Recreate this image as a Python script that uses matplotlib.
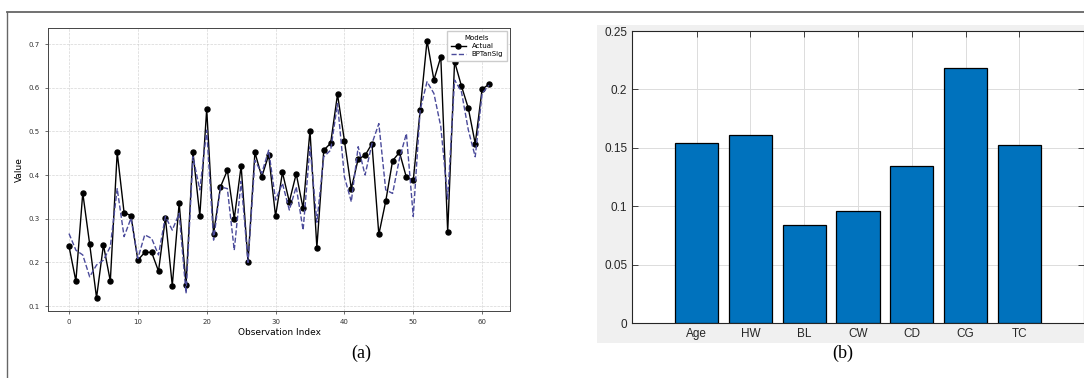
import numpy as np
import matplotlib
matplotlib.use("Agg")
import matplotlib.pyplot as plt
from matplotlib.lines import Line2D
from matplotlib.patches import Rectangle

# (a) observed vs predicted series
actual = [0.237, 0.157, 0.359, 0.242, 0.119, 0.240, 0.157, 0.452, 0.314, 0.307,
          0.205, 0.223, 0.223, 0.180, 0.302, 0.147, 0.336, 0.149, 0.453, 0.307,
          0.551, 0.266, 0.373, 0.411, 0.300, 0.421, 0.201, 0.452, 0.396, 0.446,
          0.306, 0.406, 0.339, 0.403, 0.324, 0.502, 0.234, 0.457, 0.473, 0.585,
          0.479, 0.369, 0.437, 0.445, 0.472, 0.264, 0.340, 0.433, 0.452, 0.395,
          0.388, 0.548, 0.708, 0.618, 0.671, 0.270, 0.660, 0.604, 0.553, 0.472,
          0.597, 0.608]
bptansig = [0.266, 0.228, 0.217, 0.167, 0.194, 0.205, 0.236, 0.369, 0.259, 0.301,
            0.209, 0.263, 0.255, 0.217, 0.305, 0.274, 0.312, 0.129, 0.442, 0.366,
            0.503, 0.251, 0.373, 0.369, 0.228, 0.386, 0.200, 0.434, 0.404, 0.457,
            0.343, 0.381, 0.320, 0.373, 0.274, 0.465, 0.292, 0.442, 0.457, 0.564,
            0.396, 0.339, 0.465, 0.400, 0.472, 0.518, 0.366, 0.358, 0.438, 0.495,
            0.305, 0.549, 0.614, 0.587, 0.511, 0.345, 0.618, 0.591, 0.503, 0.442,
            0.587, 0.606]
obs_idx = np.arange(len(actual))

# (b) feature weights
features = ["Age", "HW", "BL", "CW", "CD", "CG", "TC"]
weights = [0.1544, 0.161, 0.0842, 0.0959, 0.1347, 0.218, 0.1527]

W, H = 1084, 378
fig = plt.figure(figsize=(W / 100, H / 100), dpi=100)
fig.patch.set_facecolor("white")

# ---- left panel ----
ax1 = fig.add_axes([48 / W, 1 - 311 / H, (510 - 48) / W, (311 - 28) / H])
ax1.plot(obs_idx, actual, color="black", marker="o", markersize=3.6,
         linewidth=1.0, label="Actual")
ax1.plot(obs_idx, bptansig, color="#4b4b9b", linestyle="--", linewidth=1.0,
         label="BPTanSig")
ax1.set_xlim(-3.05, 64.05)
ax1.set_ylim(0.0886, 0.737)
ax1.set_xticks(range(0, 61, 10))
ax1.set_yticks([0.1, 0.2, 0.3, 0.4, 0.5, 0.6, 0.7])
ax1.grid(True, linestyle="--", linewidth=0.5, color="#cccccc", alpha=0.8)
ax1.tick_params(labelsize=5, length=2.5, width=0.5, colors="#333333")
ax1.set_xlabel("Observation Index", fontsize=6.5, labelpad=2)
ax1.set_ylabel("Value", fontsize=6.5, labelpad=3)
for s in ax1.spines.values():
    s.set_color("#444444")
    s.set_linewidth(0.7)
leg = ax1.legend(title="Models", fontsize=5, title_fontsize=5, loc="upper right",
                 handlelength=2.2, borderpad=0.5, labelspacing=0.3, framealpha=1,
                 edgecolor="#cccccc", fancybox=False)

# ---- right panel ----
bg = Rectangle((597 / W, 1 - 343 / H), 1 - 597 / W, (343 - 25) / H,
               transform=fig.transFigure, facecolor="#f0f0f0", edgecolor="none",
               zorder=0)
fig.add_artist(bg)

ax2 = fig.add_axes([632 / W, 1 - 323 / H, (1084 - 632) / W, (323 - 31) / H])
ax2.set_facecolor("white")
pos = np.arange(1, len(features) + 1)
ax2.bar(pos, weights, width=0.8, color="#0072BD", edgecolor="black",
        linewidth=0.9, zorder=3)
ax2.set_xlim(-0.2, 8.2)
ax2.set_ylim(0, 0.25)
ax2.set_xticks(pos)
ax2.set_xticklabels(features)
ax2.set_yticks([0, 0.05, 0.1, 0.15, 0.2, 0.25])
ax2.set_yticklabels(["0", "0.05", "0.1", "0.15", "0.2", "0.25"])
ax2.grid(True, color="#dcdcdc", linewidth=0.7, zorder=0)
ax2.set_axisbelow(True)
ax2.tick_params(direction="in", top=True, right=True, length=4, width=0.6,
                colors="#262626", labelsize=8.5)
for lab in ax2.get_xticklabels() + ax2.get_yticklabels():
    lab.set_fontfamily("Liberation Sans")
for s in ax2.spines.values():
    s.set_color("#262626")
    s.set_linewidth(0.8)

# ---- captions and frame ----
fig.text(361 / W, 1 - 353 / H, "(a)", ha="center", va="center",
         fontsize=13, family="Liberation Serif")
fig.text(843 / W, 1 - 353 / H, "(b)", ha="center", va="center",
         fontsize=13, family="Liberation Serif")
fig.add_artist(Line2D([7 / W, 1], [1 - 12 / H, 1 - 12 / H],
                      transform=fig.transFigure, color="#666666", linewidth=1.3))
fig.add_artist(Line2D([7 / W, 7 / W], [0, 1 - 12 / H],
                      transform=fig.transFigure, color="#666666", linewidth=1.0))

fig.savefig("out.png", dpi=100)
